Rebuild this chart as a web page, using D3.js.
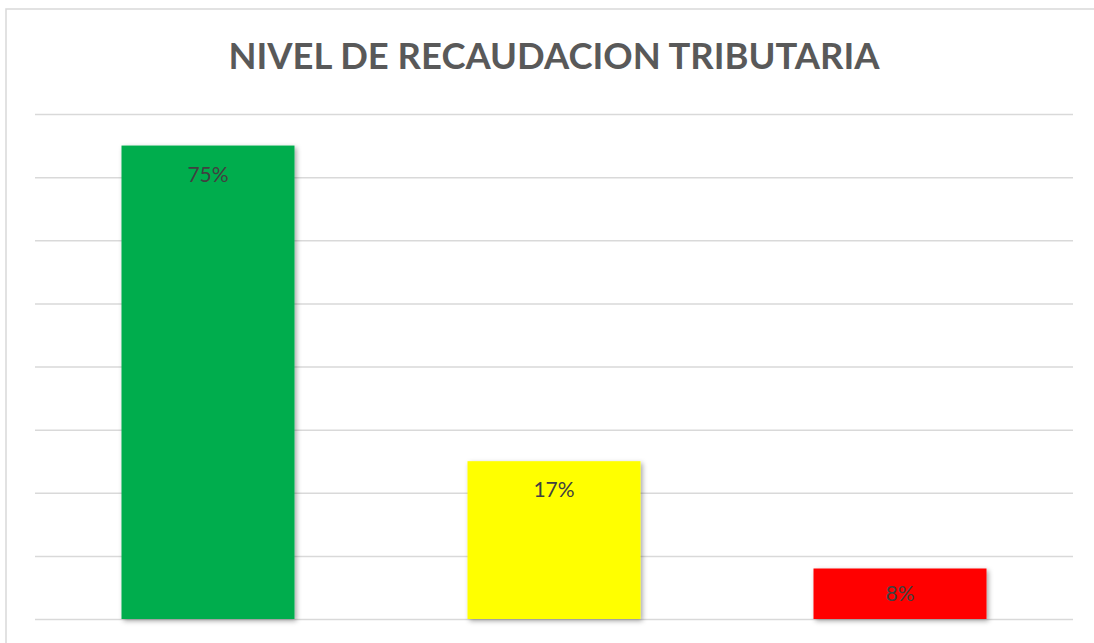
<!DOCTYPE html>
<html>
<head>
<meta charset="utf-8">
<script src="https://cdn.jsdelivr.net/npm/d3@7"></script>
<style>
  body { margin: 0; background: #fff; }
  svg { display: block; }
</style>
</head>
<body>
<div id="chart"></div>
<script>
// Chart data
const categories = ["Alto", "Medio", "Bajo"];
const values = [75, 25, 8];               // bar heights
const labels = ["75%", "17%", "8%"];       // data labels as shown
const colors = ["#00ad4e", "#ffff00", "#ff0000"];
const gridTicks = [0, 10, 20, 30, 40, 50, 60, 70, 80];

const W = 1094, H = 643;
const margin = { top: 114, right: 21, bottom: 24, left: 35 },
      width = W - margin.left - margin.right,
      height = H - margin.top - margin.bottom;

const root = d3.select("#chart").append("svg")
    .attr("width", W)
    .attr("height", H);

// Drop shadow for the bars
const defs = root.append("defs");
const f = defs.append("filter").attr("id", "shadow")
    .attr("x", "-10%").attr("y", "-10%").attr("width", "130%").attr("height", "130%");
f.append("feDropShadow")
    .attr("dx", 2).attr("dy", 2).attr("stdDeviation", 2.5)
    .attr("flood-color", "#000").attr("flood-opacity", 0.35);

// Chart frame (cut off at right and bottom)
root.append("rect")
    .attr("x", 6).attr("y", 9)
    .attr("width", W + 10).attr("height", H + 10)
    .attr("fill", "none")
    .attr("stroke", "#d9d9d9")
    .attr("stroke-width", 1.5);

// Title
root.append("text")
    .attr("x", 554)
    .attr("y", 69)
    .attr("text-anchor", "middle")
    .attr("font-family", "Lato, 'Open Sans', sans-serif")
    .attr("font-weight", "bold")
    .attr("font-size", "37px")
    .attr("fill", "#595959")
    .attr("textLength", 651)
    .attr("lengthAdjust", "spacingAndGlyphs")
    .text("NIVEL DE RECAUDACION TRIBUTARIA");

const svg = root.append("g")
    .attr("transform", `translate(${margin.left}, ${margin.top})`);

// Scales
const xScale = d3.scaleBand().domain(categories).range([0, width])
    .paddingInner(0.5).paddingOuter(0.25);
const yScale = d3.scaleLinear().domain([0, 80]).range([height, 0]);

// Gridlines
const yAxis = d3.axisLeft(yScale).tickValues(gridTicks).tickSize(-width).tickFormat("");
const grid = svg.append("g").call(yAxis);
grid.select(".domain").remove();
grid.selectAll(".tick line")
    .attr("stroke", "#d9d9d9")
    .attr("stroke-width", 1.5);

// Bars
svg.selectAll(".bar")
    .data(values)
    .enter()
    .append("rect")
    .attr("class", "bar")
    .attr("x", (d, i) => xScale(categories[i]))
    .attr("y", d => yScale(d))
    .attr("width", xScale.bandwidth())
    .attr("height", d => height - yScale(d))
    .attr("fill", (d, i) => colors[i])
    .attr("filter", "url(#shadow)");

// Data labels (inside end)
svg.selectAll(".lbl")
    .data(values)
    .enter()
    .append("text")
    .attr("class", "lbl")
    .attr("x", (d, i) => xScale(categories[i]) + xScale.bandwidth() / 2)
    .attr("y", d => Math.min(yScale(d) + 36, height - 18))
    .attr("text-anchor", "middle")
    .attr("font-family", "Lato, 'Open Sans', sans-serif")
    .attr("font-size", "21px")
    .attr("fill", "#404040")
    .text((d, i) => labels[i]);
</script>
</body>
</html>
